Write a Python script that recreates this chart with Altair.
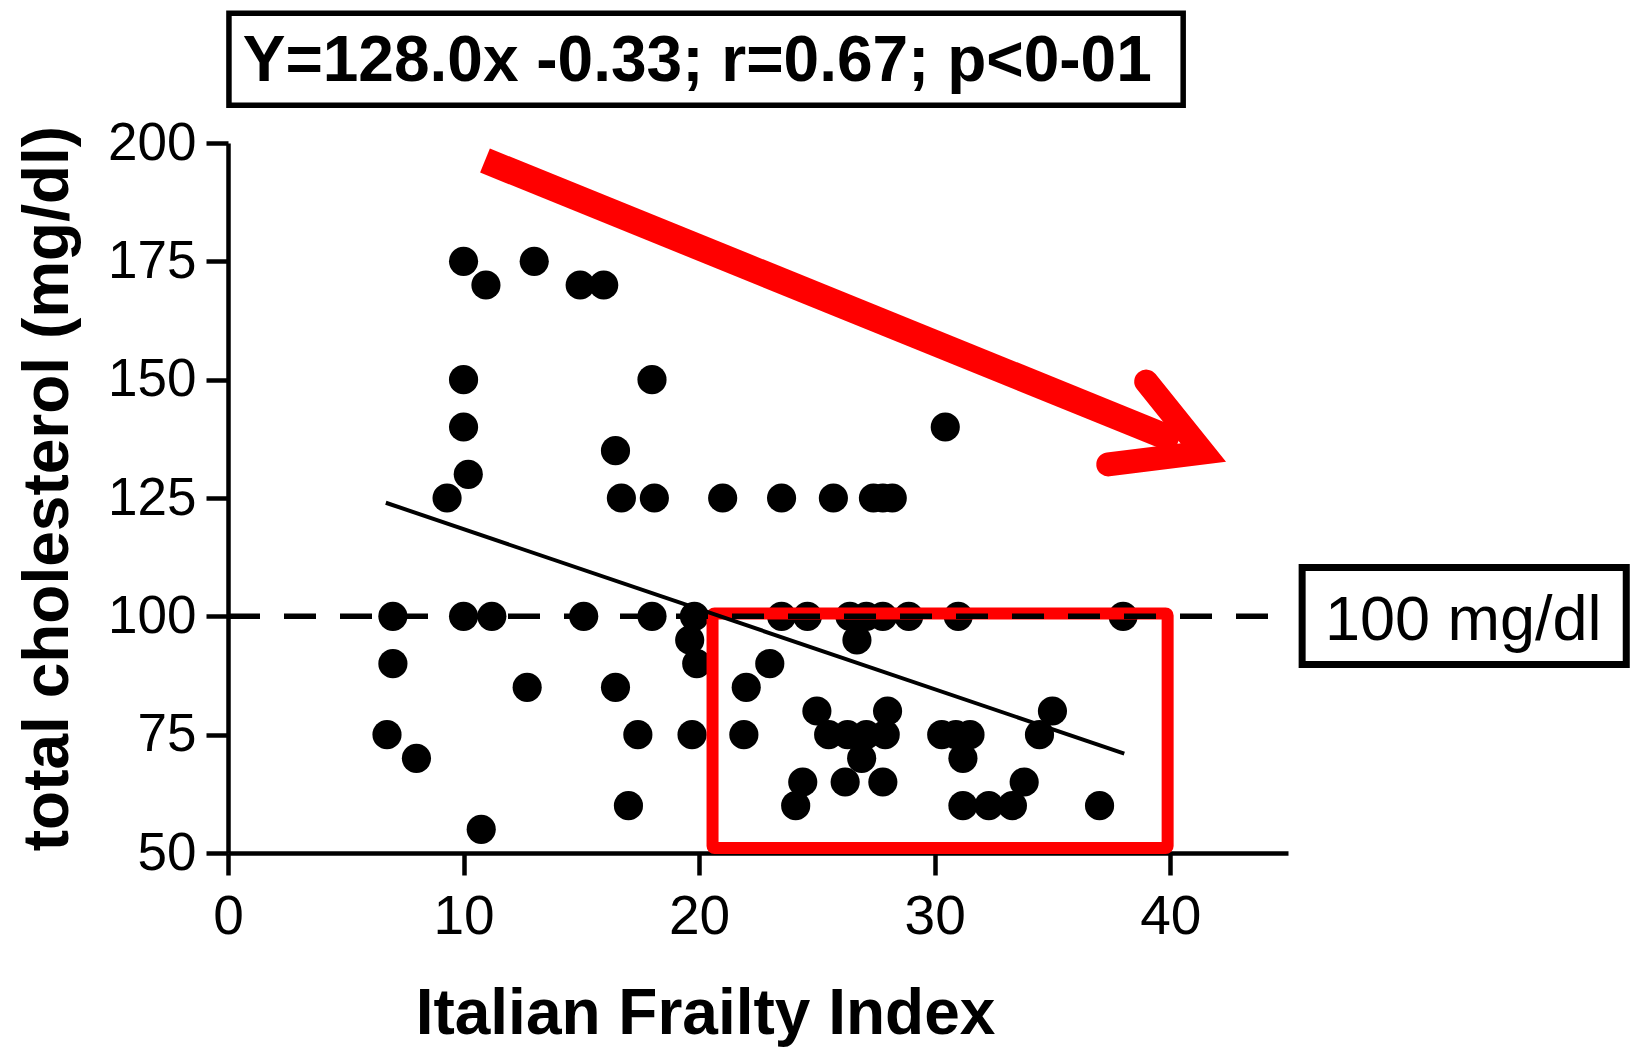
import altair as alt
import pandas as pd

# ---- data ----
frailty = [10, 13, 10.95, 14.95, 15.95,
           10, 10, 10.2, 9.3, 18.0, 16.45, 30.45,
           16.7, 18.1, 21.0, 23.5, 25.7, 27.4, 27.8, 28.2,
           7.0, 10.0, 11.2, 15.1, 18.0, 19.8, 23.5, 24.6, 26.4, 27.1, 27.8, 28.9, 31.0, 38.0,
           19.6, 26.7,
           7.0, 19.9, 23.0,
           12.7, 16.45, 22.0,
           25.0, 28.0, 35.0,
           6.75, 17.4, 19.7, 21.9, 25.5, 26.3, 27.1, 27.9, 30.3, 30.9, 31.5, 34.45,
           8.0, 26.9, 31.2,
           24.4, 26.2, 27.8, 33.8,
           17.0, 24.1, 31.2, 32.3, 33.3, 37.0,
           10.75]
cholesterol = [175, 175, 170, 170, 170,
               150, 140, 130, 125, 150, 135, 140,
               125, 125, 125, 125, 125, 125, 125, 125,
               100, 100, 100, 100, 100, 100, 100, 100, 100, 100, 100, 100, 100, 100,
               95, 95,
               90, 90, 90,
               85, 85, 85,
               80, 80, 80,
               75, 75, 75, 75, 75, 75, 75, 75, 75, 75, 75, 75,
               70, 70, 70,
               65, 65, 65, 65,
               60, 60, 60, 60, 60, 60,
               55]

fit_x = [6.7, 38.05]
fit_y = [124.0, 71.0]

threshold = 100
threshold_x = [0, 44.2]

red_box_x = [20.57, 39.89]
red_box_y = [100.6, 51.06]

arrow_shaft_x = [10.91, 40.34]
arrow_shaft_y = [196.3, 136.9]
arrow_head_x = [38.98, 41.40, 37.37]
arrow_head_y = [149.6, 134.6, 132.1]

eq_text = "Y=128.0x -0.33; r=0.67; p<0-01"
eq_box_x = [0.04, 40.55]
eq_box_y = [227.4, 208.0]
eq_pos = [19.92, 213.0]

lim_text = "100 mg/dl"
lim_box_x = [45.60, 59.36]
lim_box_y = [110.3, 89.8]
lim_pos = [52.44, 94.9]

x_ticks = [0, 10, 20, 30, 40]
y_ticks = [50, 75, 100, 125, 150, 175, 200]

FONT = "Liberation Sans"
RED = "#ff0000"

xs = alt.Scale(domain=[0, 45], nice=False, zero=False)
ys = alt.Scale(domain=[50, 200], nice=False, zero=False)

xaxis = alt.Axis(values=x_ticks, title="Italian Frailty Index", labelFontSize=55,
                 labelPadding=15, labelFlush=False, titleX=477, titleY=180,
                 titleAlign="center", titleBaseline="alphabetic")
yaxis = alt.Axis(values=y_ticks, title="total cholesterol (mg/dl)", labelFontSize=53,
                 labelPadding=10, labelFlush=False, titleX=-161, titleY=345,
                 titleAngle=270, titleAlign="center", titleBaseline="alphabetic")


def X(f):
    return alt.X(f, type="quantitative", scale=xs, axis=xaxis)


def Y(f):
    return alt.Y(f, type="quantitative", scale=ys, axis=yaxis)


pts = pd.DataFrame({"x": frailty, "y": cholesterol})
points = alt.Chart(pts).mark_circle(size=850, color="black", opacity=1).encode(x=X("x"), y=Y("y"))

box_df = pd.DataFrame({"x": [red_box_x[0]], "x2": [red_box_x[1]],
                       "y": [red_box_y[0]], "y2": [red_box_y[1]]})
red_box = alt.Chart(box_df).mark_rect(filled=False, stroke=RED, strokeWidth=12,
                                      cornerRadius=2).encode(
    x=X("x"), x2="x2", y=Y("y"), y2="y2")

fit_df = pd.DataFrame({"x": fit_x, "y": fit_y})
fit = alt.Chart(fit_df).mark_line(color="black", strokeWidth=4).encode(x=X("x"), y=Y("y"))

thr_df = pd.DataFrame({"x": [threshold_x[0]], "x2": [threshold_x[1]], "y": [threshold]})
thr = alt.Chart(thr_df).mark_rule(color="black", strokeWidth=5.5, strokeDash=[32, 24]).encode(
    x=X("x"), x2="x2", y=Y("y"))

shaft_df = pd.DataFrame({"x": arrow_shaft_x, "y": arrow_shaft_y})
shaft = alt.Chart(shaft_df).mark_line(color=RED, strokeWidth=26, strokeCap="butt").encode(
    x=X("x"), y=Y("y"))

head_df = pd.DataFrame({"x": arrow_head_x, "y": arrow_head_y, "o": [0, 1, 2]})
head = alt.Chart(head_df).mark_line(color=RED, strokeWidth=24, strokeCap="round",
                                    strokeJoin="miter", strokeMiterLimit=10).encode(
    x=X("x"), y=Y("y"), order="o:Q")

eqb_df = pd.DataFrame({"x": [eq_box_x[0]], "x2": [eq_box_x[1]],
                       "y": [eq_box_y[0]], "y2": [eq_box_y[1]]})
eq_box = alt.Chart(eqb_df).mark_rect(filled=False, stroke="black", strokeWidth=5.5).encode(
    x=X("x"), x2="x2", y=Y("y"), y2="y2")
eqt_df = pd.DataFrame({"x": [eq_pos[0]], "y": [eq_pos[1]], "t": [eq_text]})
eq_txt = alt.Chart(eqt_df).mark_text(font=FONT, fontSize=64, fontWeight="bold", color="black",
                                     align="center", baseline="alphabetic").encode(
    x=X("x"), y=Y("y"), text="t:N")

limb_df = pd.DataFrame({"x": [lim_box_x[0]], "x2": [lim_box_x[1]],
                        "y": [lim_box_y[0]], "y2": [lim_box_y[1]]})
lim_box = alt.Chart(limb_df).mark_rect(filled=False, stroke="black", strokeWidth=7).encode(
    x=X("x"), x2="x2", y=Y("y"), y2="y2")
limt_df = pd.DataFrame({"x": [lim_pos[0]], "y": [lim_pos[1]], "t": [lim_text]})
lim_txt = alt.Chart(limt_df).mark_text(font=FONT, fontSize=63, color="black",
                                       align="center", baseline="alphabetic").encode(
    x=X("x"), y=Y("y"), text="t:N")

chart = alt.layer(points, red_box, fit, thr, shaft, head, eq_box, eq_txt, lim_box, lim_txt).properties(
    width=1060, height=710,
    autosize=alt.AutoSizeParams(type="none"),
    padding={"left": 220, "top": 135, "right": 345, "bottom": 194},
    background="white",
).configure_view(stroke=None).configure_axis(
    grid=False, domainColor="black", domainWidth=4.5, tickColor="black", tickWidth=4.5,
    tickSize=22, labelFont=FONT, labelColor="black", titleFont=FONT, titleFontSize=64,
    titleFontWeight="bold", titleColor="black", labelOverlap=False,
)

chart.save("out.html", embed_options={"renderer": "svg", "actions": False})
